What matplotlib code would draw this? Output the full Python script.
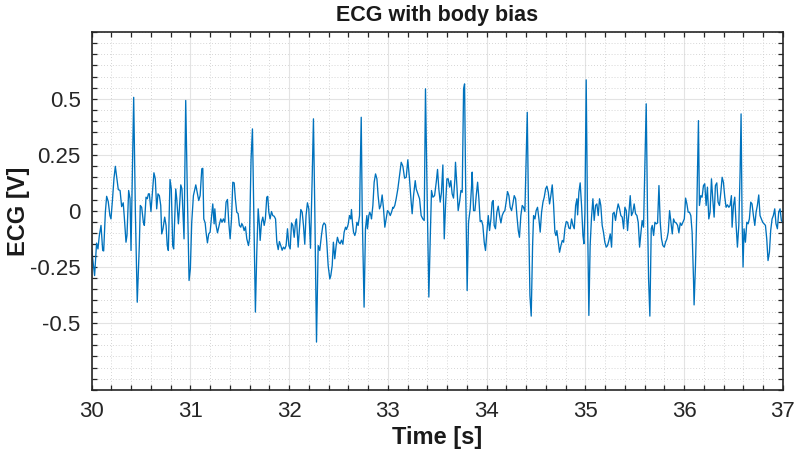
"""ECG trace with body bias, 30-37 s window"""
import matplotlib
matplotlib.use('Agg')
import matplotlib.pyplot as plt
from matplotlib.ticker import MultipleLocator

# values
time_s = [
    30.000, 30.029, 30.049, 30.063, 30.077, 30.094, 30.111, 30.121, 30.138, 30.151,
    30.167, 30.184, 30.195, 30.212, 30.225, 30.239, 30.253, 30.269, 30.287, 30.303,
    30.319, 30.330, 30.347, 30.357, 30.374, 30.388, 30.398, 30.411, 30.425, 30.442,
    30.461, 30.482, 30.492, 30.506, 30.523, 30.533, 30.550, 30.563, 30.574, 30.584,
    30.600, 30.617, 30.630, 30.644, 30.658, 30.671, 30.685, 30.699, 30.709, 30.722,
    30.739, 30.753, 30.765, 30.776, 30.793, 30.806, 30.820, 30.830, 30.851, 30.861,
    30.878, 30.888, 30.902, 30.914, 30.935, 30.952, 30.969, 30.986, 30.999, 31.013,
    31.030, 31.054, 31.071, 31.084, 31.098, 31.115, 31.125, 31.135, 31.149, 31.158,
    31.172, 31.185, 31.199, 31.212, 31.226, 31.240, 31.247, 31.260, 31.274, 31.294,
    31.307, 31.320, 31.334, 31.348, 31.361, 31.375, 31.388, 31.402, 31.416, 31.429,
    31.443, 31.455, 31.469, 31.483, 31.496, 31.510, 31.520, 31.530, 31.544, 31.557,
    31.571, 31.588, 31.598, 31.614, 31.628, 31.642, 31.658, 31.672, 31.686, 31.699,
    31.706, 31.720, 31.733, 31.747, 31.759, 31.773, 31.783, 31.794, 31.807, 31.821,
    31.834, 31.848, 31.862, 31.875, 31.889, 31.901, 31.915, 31.929, 31.942, 31.956,
    31.969, 31.983, 31.997, 32.010, 32.024, 32.037, 32.051, 32.064, 32.074, 32.091,
    32.104, 32.118, 32.132, 32.145, 32.158, 32.171, 32.185, 32.199, 32.216, 32.233,
    32.246, 32.260, 32.277, 32.294, 32.310, 32.327, 32.341, 32.354, 32.368, 32.381,
    32.395, 32.412, 32.422, 32.436, 32.448, 32.462, 32.476, 32.489, 32.503, 32.516,
    32.530, 32.544, 32.557, 32.571, 32.581, 32.597, 32.611, 32.624, 32.631, 32.641,
    32.652, 32.665, 32.675, 32.686, 32.699, 32.713, 32.719, 32.730, 32.740, 32.759,
    32.773, 32.787, 32.793, 32.807, 32.817, 32.828, 32.834, 32.848, 32.861, 32.875,
    32.889, 32.901, 32.915, 32.928, 32.942, 32.956, 32.969, 32.983, 32.996, 33.010,
    33.024, 33.037, 33.051, 33.057, 33.070, 33.084, 33.101, 33.118, 33.135, 33.152,
    33.169, 33.186, 33.202, 33.219, 33.236, 33.246, 33.260, 33.277, 33.287, 33.304,
    33.321, 33.337, 33.354, 33.368, 33.381, 33.395, 33.415, 33.429, 33.442, 33.456,
    33.473, 33.490, 33.503, 33.516, 33.530, 33.543, 33.557, 33.571, 33.584, 33.598,
    33.611, 33.625, 33.638, 33.651, 33.665, 33.679, 33.685, 33.699, 33.712, 33.726,
    33.740, 33.753, 33.767, 33.777, 33.787, 33.803, 33.817, 33.834, 33.848, 33.854,
    33.868, 33.882, 33.895, 33.909, 33.922, 33.935, 33.949, 33.962, 33.976, 33.989,
    34.003, 34.017, 34.030, 34.044, 34.056, 34.067, 34.077, 34.090, 34.104, 34.118,
    34.131, 34.145, 34.158, 34.172, 34.185, 34.198, 34.212, 34.226, 34.239, 34.253,
    34.266, 34.280, 34.294, 34.307, 34.321, 34.333, 34.347, 34.361, 34.374, 34.388,
    34.401, 34.412, 34.425, 34.439, 34.452, 34.466, 34.476, 34.490, 34.502, 34.516,
    34.530, 34.543, 34.557, 34.571, 34.584, 34.598, 34.611, 34.625, 34.638, 34.651,
    34.665, 34.678, 34.692, 34.702, 34.712, 34.726, 34.739, 34.753, 34.767, 34.780,
    34.793, 34.807, 34.820, 34.834, 34.847, 34.861, 34.875, 34.888, 34.902, 34.915,
    34.922, 34.935, 34.948, 34.962, 34.976, 34.986, 34.996, 35.009, 35.022, 35.036,
    35.049, 35.063, 35.077, 35.090, 35.104, 35.117, 35.131, 35.144, 35.157, 35.171,
    35.184, 35.198, 35.212, 35.225, 35.239, 35.253, 35.266, 35.279, 35.292, 35.306,
    35.320, 35.333, 35.347, 35.360, 35.374, 35.388, 35.401, 35.415, 35.428, 35.442,
    35.455, 35.468, 35.482, 35.495, 35.509, 35.523, 35.536, 35.550, 35.564, 35.576,
    35.590, 35.603, 35.617, 35.630, 35.641, 35.654, 35.668, 35.678, 35.692, 35.705,
    35.719, 35.732, 35.746, 35.759, 35.772, 35.786, 35.800, 35.813, 35.827, 35.840,
    35.854, 35.868, 35.881, 35.894, 35.907, 35.921, 35.935, 35.948, 35.962, 35.975,
    35.989, 36.003, 36.016, 36.029, 36.042, 36.055, 36.069, 36.082, 36.096, 36.102,
    36.116, 36.129, 36.146, 36.156, 36.170, 36.183, 36.197, 36.210, 36.224, 36.237,
    36.251, 36.264, 36.278, 36.291, 36.305, 36.318, 36.332, 36.345, 36.359, 36.373,
    36.386, 36.399, 36.413, 36.426, 36.440, 36.454, 36.467, 36.480, 36.487, 36.501,
    36.514, 36.528, 36.541, 36.555, 36.568, 36.578, 36.588, 36.598, 36.608, 36.622,
    36.636, 36.649, 36.662, 36.676, 36.689, 36.703, 36.717, 36.730, 36.743, 36.757,
    36.770, 36.784, 36.797, 36.811, 36.825, 36.838, 36.851, 36.865, 36.878, 36.892,
    36.905, 36.919, 36.932, 36.946, 36.959, 36.973, 36.986, 37.000,
]

ecg_v = [
    -0.175, -0.289, -0.144, -0.170, -0.110, -0.065, -0.177, -0.179, -0.006, 0.065,
    0.042, -0.021, -0.036, 0.061, 0.143, 0.199, 0.150, 0.095, 0.091, 0.019,
    0.036, -0.028, -0.140, -0.110, 0.091, 0.054, -0.177, 0.143, 0.507, -0.006,
    -0.408, -0.155, 0.024, 0.016, -0.051, -0.065, 0.061, 0.054, 0.076, 0.076,
    -0.003, 0.098, 0.170, 0.143, 0.009, 0.076, 0.068, 0.024, -0.103, -0.080,
    -0.028, -0.065, -0.155, -0.177, 0.140, 0.098, -0.155, -0.170, 0.098, 0.054,
    -0.058, 0.009, 0.116, 0.098, -0.125, 0.493, 0.068, -0.311, -0.259, -0.051,
    0.068, 0.116, 0.076, 0.046, 0.068, 0.188, 0.190, -0.036, -0.054, -0.095,
    -0.143, -0.103, -0.095, -0.036, 0.031, -0.058, 0.009, -0.065, -0.098, -0.058,
    -0.036, -0.051, -0.036, -0.051, 0.039, 0.051, -0.051, -0.125, -0.036, 0.128,
    0.125, 0.054, -0.006, -0.012, -0.065, -0.073, -0.057, -0.065, -0.088, -0.071,
    -0.125, -0.155, -0.125, 0.232, 0.366, -0.006, -0.452, -0.185, 0.009, -0.065,
    -0.132, -0.051, -0.028, -0.065, -0.036, 0.061, 0.065, -0.006, -0.036, -0.003,
    -0.021, -0.024, -0.036, -0.140, -0.173, -0.137, -0.155, -0.176, -0.162, -0.170,
    -0.155, -0.080, -0.155, -0.170, -0.054, -0.065, -0.118, -0.051, -0.036, -0.162,
    -0.080, 0.006, -0.006, -0.065, -0.149, -0.021, 0.036, 0.009, -0.167, 0.143,
    0.411, -0.006, -0.586, -0.155, -0.177, -0.110, -0.065, -0.054, -0.062, -0.140,
    -0.244, -0.304, -0.289, -0.244, -0.140, -0.214, -0.155, -0.118, -0.140, -0.147,
    -0.131, -0.149, -0.095, -0.073, -0.083, -0.062, -0.021, -0.036, 0.006, -0.051,
    -0.095, -0.110, -0.095, -0.051, -0.065, -0.021, 0.158, 0.418, -0.006, -0.430,
    -0.080, -0.021, -0.080, -0.021, -0.006, -0.021, -0.036, 0.024, 0.128, 0.165,
    0.143, 0.068, 0.009, 0.024, 0.071, 0.009, -0.073, -0.036, 0.001, -0.006,
    -0.021, -0.006, 0.016, 0.012, 0.024, 0.054, 0.098, 0.158, 0.217, 0.199,
    0.146, 0.150, 0.228, 0.143, 0.039, -0.013, 0.068, 0.135, 0.098, 0.076,
    0.054, -0.021, -0.036, -0.043, 0.545, 0.143, -0.385, -0.125, 0.091, 0.061,
    0.068, 0.128, 0.185, 0.098, 0.039, 0.083, 0.205, -0.125, 0.024, 0.143,
    0.143, 0.106, 0.135, 0.076, 0.057, 0.143, 0.217, 0.113, 0.001, 0.039,
    0.091, 0.083, 0.545, 0.567, 0.143, -0.356, -0.051, 0.009, 0.113, 0.173,
    0.001, 0.001, 0.068, 0.128, 0.054, -0.048, -0.043, -0.065, -0.140, -0.177,
    -0.095, -0.021, -0.088, -0.036, 0.039, 0.046, -0.065, -0.080, -0.006, 0.021,
    -0.021, -0.054, -0.021, -0.006, 0.001, 0.039, 0.086, 0.068, 0.016, 0.001,
    0.031, 0.068, 0.054, -0.021, -0.088, -0.118, -0.021, 0.024, 0.016, -0.003,
    0.247, 0.440, -0.006, -0.378, -0.470, -0.155, -0.021, -0.036, 0.001, 0.016,
    -0.036, -0.095, -0.006, 0.039, 0.061, 0.098, 0.110, 0.083, 0.031, 0.068,
    0.116, 0.031, -0.095, -0.110, -0.088, -0.140, -0.185, -0.155, -0.132, -0.140,
    -0.080, -0.048, -0.051, -0.077, -0.080, -0.036, -0.065, -0.080, 0.024, 0.054,
    -0.018, 0.083, 0.125, 0.024, -0.110, -0.147, -0.006, 0.585, -0.006, -0.467,
    -0.155, -0.028, 0.054, -0.043, 0.024, 0.031, -0.021, 0.054, 0.024, -0.065,
    -0.095, -0.140, -0.162, -0.155, -0.132, -0.103, -0.162, -0.013, -0.006, -0.043,
    0.001, 0.031, 0.009, -0.021, -0.028, -0.080, 0.016, 0.001, -0.088, -0.006,
    0.068, -0.021, -0.006, 0.031, -0.013, -0.021, -0.051, -0.162, -0.095, -0.043,
    -0.073, 0.202, 0.478, -0.006, -0.304, -0.470, -0.080, -0.065, -0.110, -0.051,
    -0.058, -0.054, 0.113, -0.051, -0.125, -0.155, -0.162, -0.140, -0.125, -0.095,
    0.001, -0.051, -0.103, -0.036, -0.051, -0.054, -0.065, -0.098, -0.054, -0.065,
    -0.051, -0.036, 0.057, 0.031, -0.006, -0.006, -0.021, -0.095, -0.304, -0.420,
    -0.244, -0.006, 0.403, 0.024, 0.068, 0.061, 0.113, 0.121, 0.024, 0.106,
    -0.036, -0.006, 0.143, 0.054, -0.028, 0.113, 0.125, 0.039, 0.024, 0.083,
    0.150, 0.128, 0.061, 0.016, 0.027, 0.016, 0.024, 0.068, -0.073, 0.024,
    0.061, -0.065, -0.162, -0.065, 0.173, 0.433, -0.036, -0.251, -0.080, -0.140,
    -0.051, -0.058, -0.036, 0.039, 0.031, -0.021, -0.065, -0.006, 0.024, 0.071,
    -0.021, -0.036, -0.051, -0.058, -0.065, -0.125, -0.222, -0.185, -0.088, -0.036,
    -0.021, 0.009, -0.058, -0.080, -0.006, 0.009, -0.043, -0.051,
]

x_ticks = [30, 31, 32, 33, 34, 35, 36, 37]
y_ticks = [-0.5, -0.25, 0, 0.25, 0.5]
y_tick_labels = ['-0.5', '-0.25', '0', '0.25', '0.5']

plt.rcParams['font.family'] = ['Liberation Sans', 'DejaVu Sans']

fig = plt.figure(figsize=(7.97, 4.57), dpi=100)
ax = fig.add_axes([0.1151, 0.1466, 0.8670, 0.7840])

ax.plot(time_s, ecg_v, color='#0072BD', lw=0.95)

ax.set_xlim(30, 37)
ax.set_ylim(-0.8, 0.8)
ax.set_xticks(x_ticks)
ax.set_yticks(y_ticks)
ax.set_yticklabels(y_tick_labels)
ax.xaxis.set_minor_locator(MultipleLocator(0.2))
ax.yaxis.set_minor_locator(MultipleLocator(0.05))

ax.grid(which='major', color='#e3e3e3', lw=0.8, ls='-')
ax.grid(which='minor', color='#c8c8c8', lw=0.6, ls=(0, (1, 2.5)))
ax.set_axisbelow(True)

ax.tick_params(which='both', direction='in', top=True, right=True,
               length=3.5, width=0.9, colors='#262626', labelcolor='#262626')
ax.tick_params(which='major', labelsize=16, pad=8)
for side in ax.spines.values():
    side.set_linewidth(1.2)
    side.set_color('#262626')

ax.set_title('ECG with body bias', fontsize=15.5, fontweight='bold', color='#1a1a1a', pad=8)
ax.set_xlabel('Time [s]', fontsize=17, fontweight='bold', color='#1a1a1a', labelpad=3)
ax.set_ylabel('ECG [V]', fontsize=17, fontweight='bold', color='#1a1a1a', labelpad=0)

fig.savefig('out.png', dpi=100)
